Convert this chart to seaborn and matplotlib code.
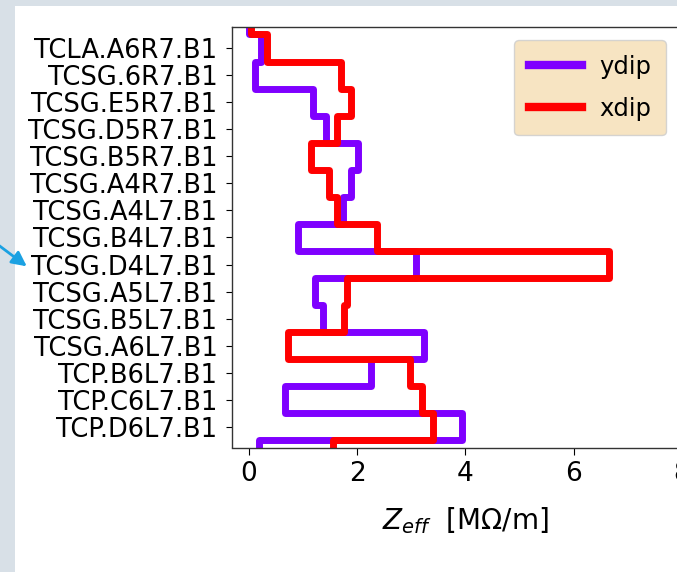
import numpy as np
import pandas as pd
import matplotlib
matplotlib.use("Agg")
import matplotlib.pyplot as plt
from matplotlib.patches import Rectangle, FancyArrowPatch
import seaborn as sns

# ---------------- data ----------------
collimators = [
    "TCLA.A6R7.B1", "TCSG.6R7.B1", "TCSG.E5R7.B1", "TCSG.D5R7.B1",
    "TCSG.B5R7.B1", "TCSG.A4R7.B1", "TCSG.A4L7.B1", "TCSG.B4L7.B1",
    "TCSG.D4L7.B1", "TCSG.A5L7.B1", "TCSG.B5L7.B1", "TCSG.A6L7.B1",
    "TCP.B6L7.B1", "TCP.C6L7.B1", "TCP.D6L7.B1",
]
ydip = [0.22, 0.11, 1.19, 1.42, 2.01, 1.88, 1.74, 0.91, 3.09, 1.23, 1.37,
        3.23, 2.25, 0.66, 3.93]
xdip = [0.33, 1.70, 1.89, 1.63, 1.14, 1.48, 1.63, 2.37, 6.66, 1.81, 1.76,
        0.73, 2.97, 3.19, 3.41]
ydip_lead, ydip_tail = 0.0, 0.18
xdip_lead, xdip_tail = 0.05, 1.56
series_names = ["ydip", "xdip"]
series_colors = ["#7f00ff", "#ff0000"]
xticks = [0, 2, 4, 6, 8]


def step_frame(name, lead, vals, tail):
    v = [lead] + list(vals) + [tail, tail]
    n = len(vals)
    edges = np.arange(-1, n + 2) - 0.5
    return pd.DataFrame({"Zeff": v, "pos": edges, "plane": name})


df = pd.concat([
    step_frame("ydip", ydip_lead, ydip, ydip_tail),
    step_frame("xdip", xdip_lead, xdip, xdip_tail),
], ignore_index=True)

# ---------------- figure ----------------
W, H = 677, 572
fig = plt.figure(figsize=(W / 100, H / 100), dpi=100)
fig.patch.set_facecolor("#d8e0e7")
fig.add_artist(Rectangle((15 / W, 0), 1, 1 - 6 / H, transform=fig.transFigure,
                         facecolor="white", edgecolor="none", zorder=-1))

ax = fig.add_axes([232 / W, 1 - 447.5 / H, 466.2 / W, 420.5 / H])

sns.lineplot(data=df, x="Zeff", y="pos", hue="plane",
             hue_order=series_names,
             palette=dict(zip(series_names, series_colors)),
             sort=False, estimator=None, drawstyle="steps-pre",
             lw=5, ax=ax, legend=False)

n = len(collimators)
ax.set_yticks(np.arange(n))
ax.set_yticklabels(collimators)
ax.set_ylim(14.76, -0.776)
ax.set_xlim(-0.31, 8.3)
ax.set_xticks(xticks)
ax.set_ylabel("")
ax.set_xlabel(r"$Z_{eff}$  [M$\Omega$/m]", fontsize=20, labelpad=13)
ax.tick_params(axis="y", labelsize=18.5, length=4.5, pad=6)
ax.tick_params(axis="x", labelsize=19, length=5, pad=5)
for s in ax.spines.values():
    s.set_linewidth(1.0)
    s.set_color("#333333")
ax.set_facecolor("white")

leg = ax.legend(handles=ax.lines[:2], labels=series_names, loc="upper right",
                bbox_to_anchor=(666 / W, 1 - 40 / H), bbox_transform=fig.transFigure,
                borderaxespad=0, fontsize=17.5, facecolor="wheat", framealpha=0.8,
                handlelength=2.2, handletextpad=0.7, labelspacing=0.75,
                borderpad=0.6)
for ln in leg.get_lines():
    ln.set_linewidth(6)

fig.add_artist(FancyArrowPatch(posA=(-3 / W, 1 - 244 / H), posB=(29 / W, 1 - 268 / H),
                               transform=fig.transFigure, arrowstyle="-|>",
                               mutation_scale=22, color="#1ba1e2", lw=2))

fig.savefig("out.png", dpi=100, facecolor=fig.get_facecolor())
